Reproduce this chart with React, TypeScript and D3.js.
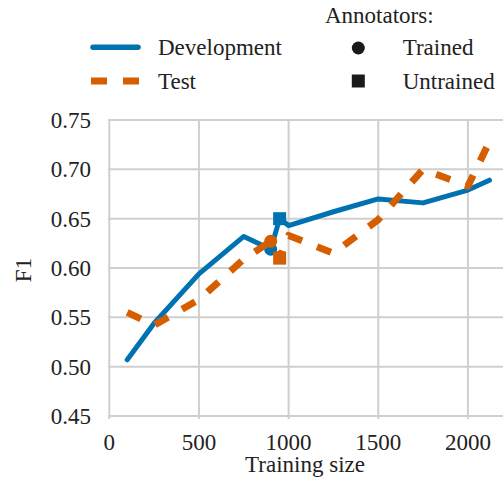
import React from 'react';
import * as d3 from 'd3';

// training sizes; index 4 = trained annotators, index 5 = untrained annotators
const sizes = [100, 250, 500, 750, 900, 950, 1000, 1250, 1500, 1750, 2000, 2120];
const devF1 = [0.507, 0.544, 0.594, 0.632, 0.619, 0.65, 0.643, 0.657, 0.67, 0.666, 0.679, 0.689];
const testF1 = [0.555, 0.542, 0.568, 0.609, 0.627, 0.61, 0.633, 0.615, 0.649, 0.7, 0.683, 0.728];
const xTicks = [0, 500, 1000, 1500, 2000];
const yTicks = [0.45, 0.5, 0.55, 0.6, 0.65, 0.7, 0.75];
const trainedIdx = 4;
const untrainedIdx = 5;

const BLUE = '#0072B2';
const ORANGE = '#D55E00';
const GRID = '#cfcfcf';
const TXT = '#222';
const FONT = "'Liberation Serif', 'DejaVu Serif', serif";

export default function App() {
  const width = 503;
  const height = 491;
  const left = 109.3;
  const right = 502;
  const top = 120;
  const bottom = 416;

  const x = d3.scaleLinear().domain([0, 2190]).range([left, right]);
  const y = d3.scaleLinear().domain([0.45, 0.75]).range([bottom, top]);

  const line = d3
    .line<number>()
    .x((_, i) => x(sizes[i]))
    .y((d) => y(d));

  const series = [
    { name: 'Development', vals: devF1, color: BLUE, width: 5, dash: undefined as string | undefined },
    { name: 'Test', vals: testF1, color: ORANGE, width: 7, dash: '15,16' },
  ];

  const sq = 13;
  const ts = { fontFamily: FONT, fontSize: 23, fill: TXT } as React.CSSProperties;

  return (
    <svg
      width={width}
      height={height}
      style={{ position: 'absolute', left: 0, top: 0, background: '#fff', fontFamily: FONT }}
    >
      {/* grid */}
      {yTicks.map((t) => (
        <line key={'gy' + t} x1={left - 1} x2={right + 2} y1={y(t)} y2={y(t)} stroke={GRID} strokeWidth={2} />
      ))}
      {xTicks.map((t) => (
        <line key={'gx' + t} x1={x(t)} x2={x(t)} y1={top} y2={bottom + 3} stroke={GRID} strokeWidth={2} />
      ))}

      {/* tick labels */}
      {yTicks.map((t) => (
        <text key={'ly' + t} x={91} y={y(t)} dy="0.35em" textAnchor="end" style={ts}>
          {d3.format('.2f')(t)}
        </text>
      ))}
      {xTicks.map((t) => (
        <text key={'lx' + t} x={x(t)} y={450} textAnchor="middle" style={ts}>
          {t}
        </text>
      ))}
      <text x={305} y={472} textAnchor="middle" style={ts}>
        Training size
      </text>
      <text transform="translate(31,270) rotate(-90)" textAnchor="middle" style={ts}>
        F1
      </text>

      {/* lines + markers */}
      {series.map((s) => (
        <g key={s.name}>
          <path
            d={line(s.vals) || ''}
            fill="none"
            stroke={s.color}
            strokeWidth={s.width}
            strokeDasharray={s.dash}
            strokeLinecap={s.dash ? 'butt' : 'round'}
            strokeLinejoin="round"
          />
          <circle cx={x(sizes[trainedIdx])} cy={y(s.vals[trainedIdx])} r={6.5} fill={s.color} />
          <rect
            x={x(sizes[untrainedIdx]) - sq / 2}
            y={y(s.vals[untrainedIdx]) - sq / 2}
            width={sq}
            height={sq}
            fill={s.color}
          />
        </g>
      ))}

      {/* legend */}
      <line x1={93} x2={138} y1={47.3} y2={47.3} stroke={BLUE} strokeWidth={5.5} strokeLinecap="round" />
      <text x={158} y={55} style={ts}>Development</text>
      <line x1={91} x2={139} y1={81} y2={81} stroke={ORANGE} strokeWidth={7} strokeDasharray="16,16" />
      <text x={158} y={89} style={ts}>Test</text>

      <text x={325} y={22.5} style={ts}>Annotators:</text>
      <circle cx={358.3} cy={48} r={6.5} fill="#1a1a1a" />
      <text x={402.7} y={55} style={ts}>Trained</text>
      <rect x={358.3 - sq / 2} y={81 - sq / 2} width={sq} height={sq} fill="#1a1a1a" />
      <text x={402.7} y={89} style={ts}>Untrained</text>
    </svg>
  );
}
